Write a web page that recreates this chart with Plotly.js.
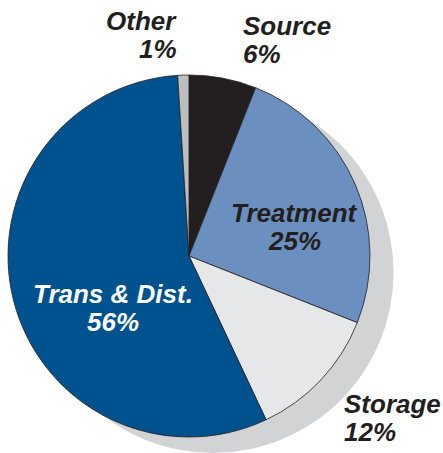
<!DOCTYPE html>
<html><head><meta charset="utf-8">
<script src="https://cdn.plot.ly/plotly-3.0.1.min.js"></script>
<style>html,body{margin:0;padding:0;background:#fff}#c{width:443px;height:453px}</style>
</head><body><div id="c"></div>
<script>
const labels = ["Source", "Treatment", "Storage", "Trans & Dist.", "Other"];
const values = [6, 25, 12, 56, 1];
const colors = ["#231f20", "#6b8fbf", "#e6e7e8", "#00528e", "#bcbec0"];
const textColors = ["#231f20", "#231f20", "#231f20", "#ffffff", "#231f20"];
// label anchor positions (pixels) and alignment
const labelX = [242, 294, 343, 113, 178];
const labelY = [27, 214, 405, 295, 22];
const labelAnchor = ["left", "center", "left", "center", "right"];

const W = 443, H = 453;
const px = x => x / W, py = y => 1 - y / H;

const shadow = {
  type: "pie", values: [1], labels: ["shadow"], sort: false,
  marker: {colors: ["#d1d3d5"], line: {width: 0}},
  textinfo: "none", hoverinfo: "skip", showlegend: false,
  domain: {x: [px(32), px(394)], y: [py(454), py(92)]}
};
const pie = {
  type: "pie", values: values, labels: labels, sort: false,
  direction: "clockwise", rotation: 0,
  marker: {colors: colors, line: {color: "#231f20", width: 0.8}},
  textinfo: "none", showlegend: false,
  domain: {x: [px(8), px(370)], y: [py(437), py(75)]}
};

const font = {family: "Liberation Sans, Arial, sans-serif", size: 26};
const annotations = [];
labels.forEach((l, i) => {
  const f = Object.assign({}, font, {color: textColors[i]});
  annotations.push({xref: "paper", yref: "paper", x: px(labelX[i]), y: py(labelY[i] - 1),
    xanchor: labelAnchor[i], yanchor: "middle", showarrow: false, borderpad: 0,
    text: "<b><i>" + l + "</i></b>", font: f});
  annotations.push({xref: "paper", yref: "paper", x: px(labelX[i]), y: py(labelY[i] + 27),
    xanchor: labelAnchor[i], yanchor: "middle", showarrow: false, borderpad: 0,
    text: "<b><i>" + values[i] + "%</i></b>", font: f});
});

Plotly.newPlot("c", [shadow, pie], {
  width: W, height: H, margin: {l: 0, r: 0, t: 0, b: 0},
  paper_bgcolor: "#fff", plot_bgcolor: "#fff",
  annotations: annotations
}, {staticPlot: true, displayModeBar: false});
</script></body></html>
